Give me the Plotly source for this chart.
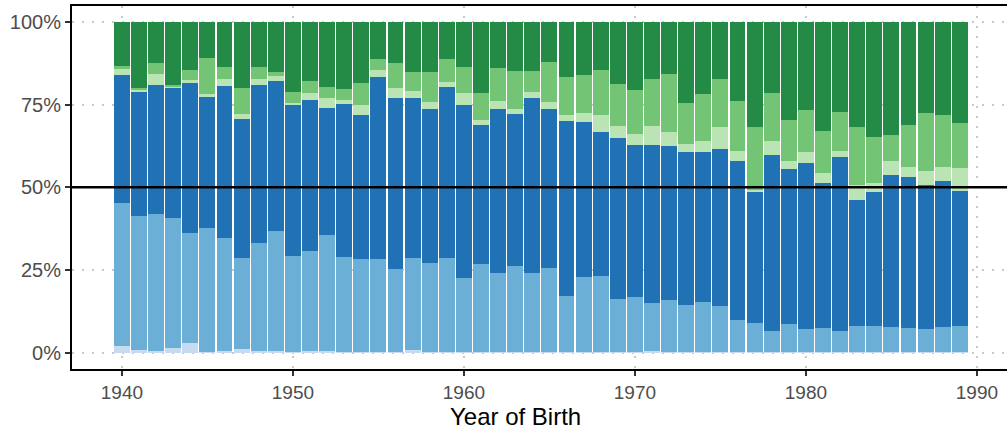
import plotly.graph_objects as go

years = list(range(1940, 1990))

# Shares (%) per layer, bottom to top
very_light_blue = [2.1, 0.9, 0.5, 1.5, 3.0, 0.1, 0.5, 1.2, 0.5, 0.5,
                   0.2, 0.5, 0.5, 0.1, 0.3, 0.1, 0.1, 0.8, 0.1, 0.3,
                   0.1, 0.3, 0.1, 0.3, 0.1, 0.1, 0.1, 0.1, 0.1, 0.1,
                   0.1, 0.5, 0.1, 0.1, 0.1, 0.1, 0.1, 0.1, 0.1, 0.1,
                   0.1, 0.1, 0.1, 0.1, 0.1, 0.1, 0.1, 0.1, 0.1, 0.1]
light_blue = [43.2, 40.5, 41.3, 39.3, 33.3, 37.7, 34.3, 27.3, 32.8, 36.4,
              29.2, 30.4, 35.2, 28.7, 27.9, 28.1, 25.1, 27.7, 26.9, 28.2,
              22.6, 26.4, 24.1, 25.8, 24.1, 25.4, 17.2, 22.9, 23.2, 16.3,
              16.9, 14.4, 16.0, 14.2, 15.1, 13.9, 9.7, 8.8, 6.6, 8.5,
              7.2, 7.5, 6.6, 8.1, 8.1, 7.8, 7.5, 7.1, 7.8, 8.1]
dark_blue = [38.5, 37.6, 39.2, 39.5, 45.3, 39.6, 45.9, 42.2, 47.7, 45.3,
             45.6, 45.6, 38.3, 46.5, 43.7, 55.2, 51.9, 48.6, 46.7, 51.9,
             52.3, 42.2, 49.5, 46.1, 52.9, 48.2, 52.8, 46.8, 43.5, 48.6,
             45.9, 48.0, 46.5, 46.5, 45.6, 47.7, 48.2, 39.8, 53.2, 47.0,
             50.1, 43.8, 52.6, 37.9, 40.3, 45.9, 45.6, 43.6, 44.1, 40.8]
very_light_green = [2.0, 0.3, 3.3, 0.1, 0.9, 0.9, 2.1, 1.5, 1.8, 1.5,
                    0.6, 2.1, 3.1, 1.2, 3.1, 2.1, 3.0, 2.1, 2.2, 1.5,
                    3.6, 1.5, 2.5, 1.5, 1.8, 2.2, 1.8, 2.7, 5.1, 3.6,
                    3.3, 5.7, 4.2, 2.4, 3.3, 6.6, 3.1, 0.6, 4.2, 2.4,
                    3.4, 3.0, 1.8, 4.7, 2.9, 4.2, 3.0, 4.2, 4.2, 6.9]
light_green = [0.9, 0.8, 3.3, 0.6, 3.0, 10.8, 3.6, 7.9, 3.6, 1.2,
               3.3, 3.6, 3.3, 3.3, 6.6, 3.3, 7.5, 5.7, 9.0, 6.9,
               7.8, 8.2, 9.9, 11.5, 6.3, 12.0, 11.5, 11.5, 13.6, 12.7,
               13.3, 14.2, 17.5, 12.4, 14.2, 14.5, 15.1, 19.0, 14.5, 12.4,
               12.6, 12.7, 11.7, 17.5, 13.9, 7.9, 12.7, 17.5, 15.7, 13.6]
dark_green = [13.3, 19.9, 12.4, 19.0, 14.5, 10.9, 13.6, 19.9, 13.6, 15.1,
              21.1, 17.8, 19.6, 20.2, 18.4, 11.2, 12.4, 15.1, 15.1, 11.2,
              13.6, 21.4, 13.9, 14.8, 14.8, 12.1, 16.6, 16.0, 14.5, 18.7,
              20.5, 17.2, 15.7, 24.4, 21.7, 17.2, 23.8, 31.7, 21.4, 29.6,
              26.6, 32.9, 27.2, 31.7, 34.7, 34.1, 31.1, 27.5, 28.1, 30.5]

layers = [
    ("Layer 1", very_light_blue, "#c6dbef"),
    ("Layer 2", light_blue, "#6baed6"),
    ("Layer 3", dark_blue, "#2171b5"),
    ("Layer 4", very_light_green, "#bae4b3"),
    ("Layer 5", light_green, "#74c476"),
    ("Layer 6", dark_green, "#238b45"),
]

y_ticks = [0, 25, 50, 75, 100]
y_tick_text = ["0%", "25%", "50%", "75%", "100%"]
x_ticks = [1940, 1950, 1960, 1970, 1980, 1990]
x_title = "Year of Birth"

fig = go.Figure()
for name, vals, col in layers:
    fig.add_trace(go.Bar(
        x=years, y=vals, name=name, width=0.93,
        marker=dict(color=col, line=dict(width=0)),
        showlegend=False,
    ))

fig.add_shape(type="line", xref="paper", x0=0, x1=1, yref="y", y0=50, y1=50,
              line=dict(color="black", width=2.5), layer="above")

font_family = "Liberation Sans, Arial, Helvetica, sans-serif"

# Axis title placed as annotation (offset left like the reference)
fig.add_annotation(
    text=x_title, showarrow=False, borderpad=0,
    xref="paper", yref="paper", x=(515 - 72) / 935, y=-(416 - 369) / 363,
    xanchor="center", yanchor="middle",
    font=dict(size=24, color="black", family=font_family),
)

fig.update_layout(
    width=1007, height=430,
    barmode="stack", bargap=0,
    plot_bgcolor="white", paper_bgcolor="white",
    margin=dict(l=72, r=0, t=6, b=61),
    font=dict(family=font_family, color="#4d4d4d"),
    xaxis=dict(
        range=[1937.08, 1991.76],
        tickvals=x_ticks,
        ticks="outside", ticklen=5, tickwidth=2, tickcolor="#333333",
        tickfont=dict(size=19, color="#4d4d4d"),
        showline=True, linecolor="black", linewidth=2, mirror=True,
        showgrid=True, gridcolor="#c8c8c8", gridwidth=1.5, griddash="1.5px,8.5px",
        zeroline=False,
    ),
    yaxis=dict(
        range=[-4.9, 104.8],
        tickvals=y_ticks, ticktext=y_tick_text,
        ticks="outside", ticklen=5, tickwidth=2, tickcolor="#333333",
        tickfont=dict(size=20, color="#4d4d4d"),
        showline=True, linecolor="black", linewidth=2,
        showgrid=True, gridcolor="#c8c8c8", gridwidth=1.5, griddash="1.5px,8.5px",
        zeroline=False,
    ),
)

fig.write_html("out.html")
